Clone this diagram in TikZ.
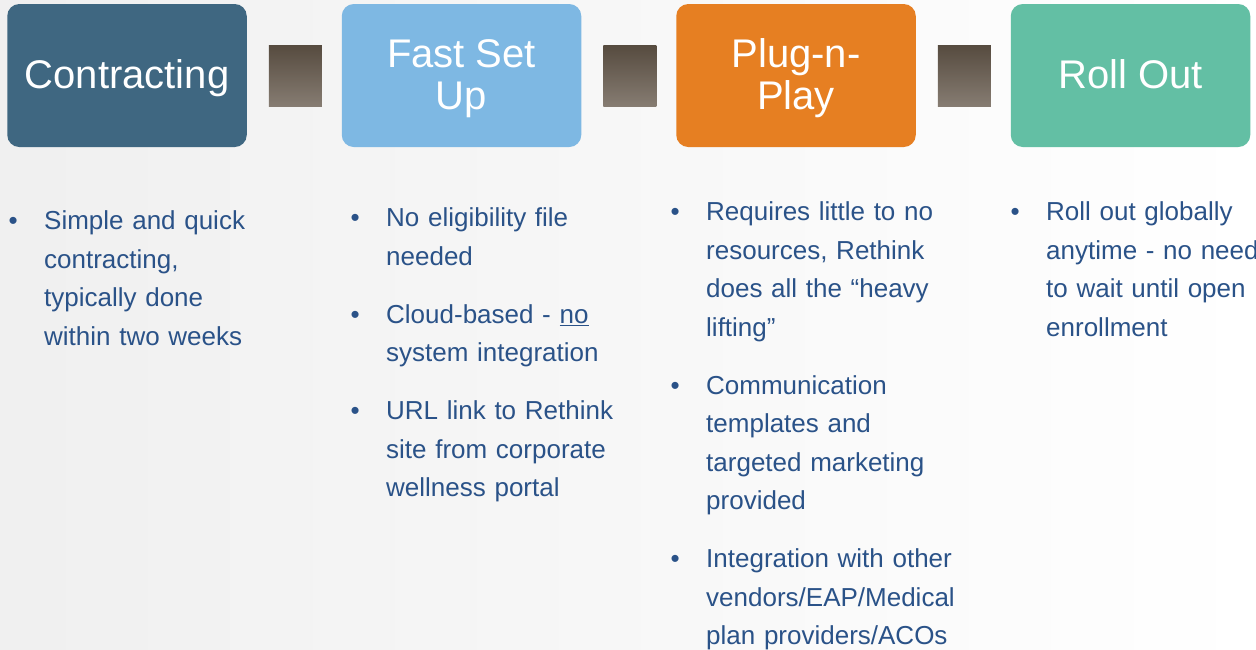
\documentclass[tikz,border=0pt]{standalone}
\usepackage{fontspec}
\setmainfont{Liberation Sans}
\usetikzlibrary{positioning}

\definecolor{contractblue}{HTML}{3F6781}
\definecolor{setupblue}{HTML}{7EB8E3}
\definecolor{plugorange}{HTML}{E67F22}
\definecolor{rollgreen}{HTML}{63BFA4}
\definecolor{linkdark}{HTML}{564B3F}
\definecolor{linklight}{HTML}{867C72}
\definecolor{notetext}{HTML}{2A5288}

% one bullet point with hanging indent
\newcommand{\stepitem}[1]{{\let\\\newline
    \hangindent=35.5pt\hangafter=1\noindent\makebox[35.5pt][l]{\textbullet}#1\par}}
\newcommand{\itemgap}{\vspace{19.5pt}}

\begin{document}
\begin{tikzpicture}[x=1pt, y=-1pt,
    stepbox/.style={rounded corners=12pt, minimum width=239.5pt, minimum height=143pt,
        inner sep=0pt, outer sep=0pt, text=white, align=center,
        text height=25.6pt, text depth=0pt,
        font=\fontsize{40}{42}\selectfont},
    twoline/.style={text height=67.6pt},
    linkbox/.style={minimum width=53pt, minimum height=61pt, inner sep=0pt, outer sep=0pt,
        top color=linkdark, bottom color=linklight, draw=none},
    notes/.style={anchor=north west, inner sep=0pt, text width=290pt,
        text=notetext, font=\fontsize{26}{38.5}\selectfont\raggedright},
    node distance=22pt and 20pt]

    % --- 0. Background ---
    \useasboundingbox (0,0) rectangle (1256,649);
    \shade[left color=black!6, right color=white] (0,0) rectangle (1256,649);

    % --- 1. Step boxes with links ---
    \node[stepbox, fill=contractblue] (contract) at (127,75.5) {Contracting};
    \node[linkbox, right=22pt of contract] (link1) {};
    \node[stepbox, twoline, fill=setupblue, right=20pt of link1] (setup) {Fast Set\\Up};
    \node[linkbox, right=22pt of setup] (link2) {};
    \node[stepbox, twoline, fill=plugorange, right=20pt of link2] (plug) {Plug-n-\\Play};
    \node[linkbox, right=22pt of plug] (link3) {};
    \node[stepbox, fill=rollgreen, right=20pt of link3] (roll) {Roll Out};

    % --- 2. Notes below each step ---
    \node[notes] (contractnotes) at (8.5,210.8) {%
        \stepitem{Simple and quick\\contracting,\\typically done\\within two weeks}};

    \node[notes] (setupnotes) at (350.5,207.8) {%
        \stepitem{No eligibility file\\needed}\itemgap
        \stepitem{Cloud-based - \underline{no}\\system integration}\itemgap
        \stepitem{URL link to Rethink\\site from corporate\\wellness portal}};

    \node[notes] (plugnotes) at (670.5,201.8) {%
        \stepitem{Requires little to no\\resources, Rethink\\does all the “heavy\\lifting”}\itemgap
        \stepitem{Communication\\templates and\\targeted marketing\\provided}\itemgap
        \stepitem{Integration with other\\vendors/EAP/Medical\\plan providers/ACOs}};

    \node[notes] (rollnotes) at (1010.5,201.8) {%
        \stepitem{Roll out globally\\anytime - no need\\to wait until open\\enrollment}};
\end{tikzpicture}
\end{document}
